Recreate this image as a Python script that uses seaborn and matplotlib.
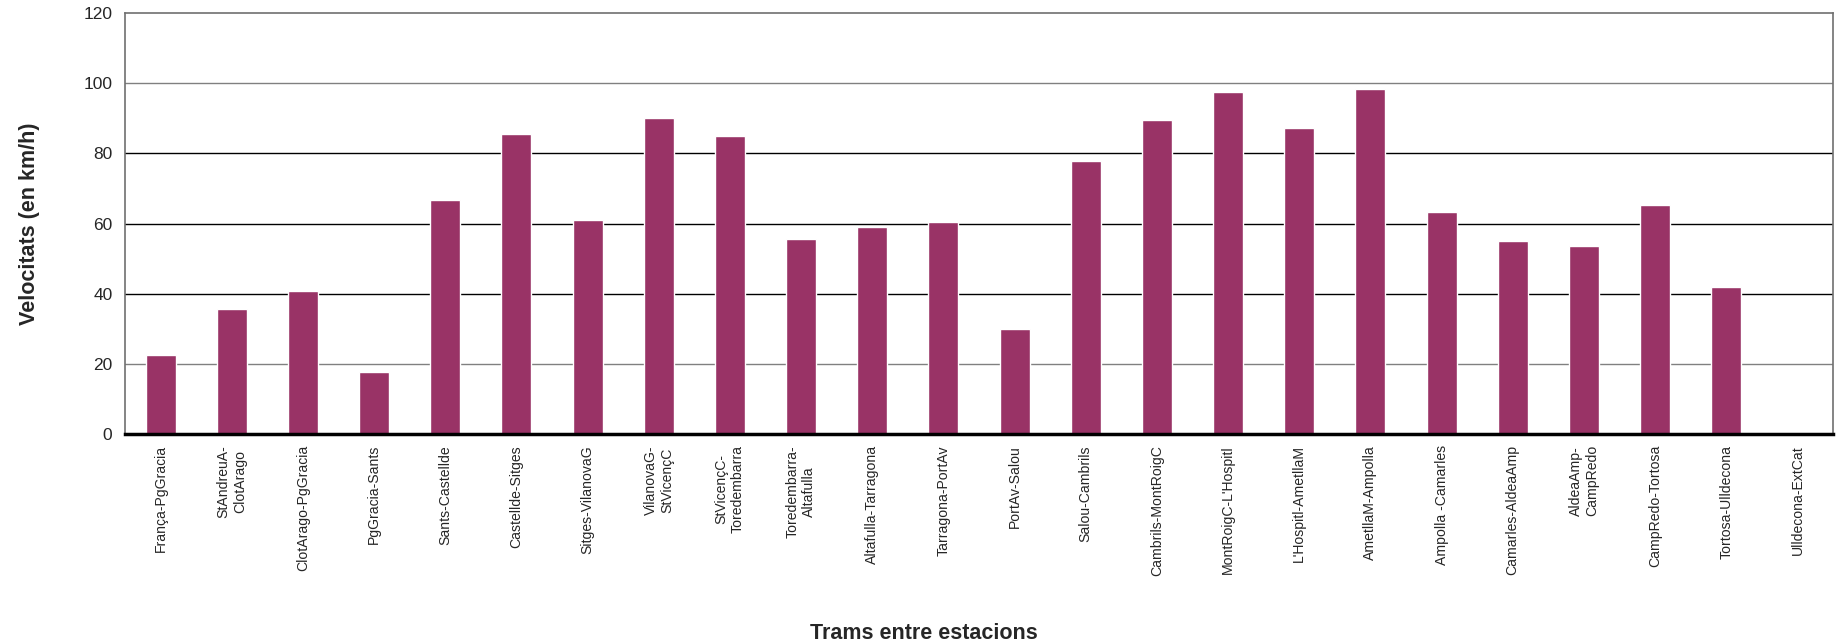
import matplotlib
matplotlib.use("Agg")
import matplotlib.pyplot as plt
import seaborn as sns
import pandas as pd

categories = [
    "França-PgGracia", "StAndreuA-\nClotArago", "ClotArago-PgGracia", "PgGracia-Sants",
    "Sants-Castellde", "Castellde-Sitges", "Sitges-VilanovaG", "VilanovaG-\nStVicençC",
    "StVicençC-\nToredembarra", "Toredembarra-\nAltafulla", "Altafulla-Tarragona",
    "Tarragona-PortAv", "PortAv-Salou", "Salou-Cambrils", "Cambrils-MontRoigC",
    "MontRoigC-L'Hospitl", "L'Hospitl-AmetllaM", "AmetllaM-Ampolla", "Ampolla -Camarles",
    "Camarles-AldeaAmp", "AldeaAmp-\nCampRedo", "CampRedo-Tortosa", "Tortosa-Ulldecona",
    "Ulldecona-ExtCat",
]
velocitats = [22.4, 35.5, 40.7, 17.8, 66.7, 85.5, 61.0, 90.1, 85.0, 55.5, 59.0, 60.4,
              29.8, 77.8, 89.5, 97.5, 87.2, 98.4, 63.2, 55.0, 53.5, 65.2, 41.8, 0.0]
yticks = [0, 20, 40, 60, 80, 100, 120]

sns.set_style("white")
plt.rcParams["font.family"] = ["Liberation Sans", "DejaVu Sans"]

df = pd.DataFrame({"tram": categories, "vel": velocitats})

fig = plt.figure(figsize=(18.45, 6.44), dpi=100)
ax = fig.add_axes([125/1845, 1 - 434/644, (1833-125)/1845, (434-13)/644])

sns.barplot(data=df, x="tram", y="vel", color="#993366", saturation=1, width=0.42, ax=ax, zorder=3)

ax.set_ylim(0, 120)
ax.set_xlim(-0.5, len(categories) - 0.5)
ax.set_yticks(yticks)
ax.set_yticklabels([str(t) for t in yticks], fontsize=12.5)
ax.tick_params(axis="y", length=0, pad=9)
ax.tick_params(axis="x", length=0, pad=8)
ax.set_xticks(range(len(categories)))
ax.set_xticklabels(categories, rotation=90, fontsize=10.1, multialignment="center", va="top")

for t in yticks[1:-1]:
    col = "#808080" if t in (20, 100) else "#000000"
    ax.axhline(t, color=col, lw=1.0, zorder=1)

for s in ["top", "left", "right"]:
    ax.spines[s].set_color("#707070")
    ax.spines[s].set_linewidth(1.2)
ax.spines["bottom"].set_color("black")
ax.spines["bottom"].set_linewidth(2.5)
ax.spines["bottom"].set_zorder(5)

ax.set_xlabel("Trams entre estacions", fontsize=15.5, fontweight="bold")
ax.xaxis.set_label_coords(0.468, -0.45)
ax.set_ylabel("Velocitats (en km/h)", fontsize=15.5, fontweight="bold")
ax.yaxis.set_label_coords(-0.0495, 0.5)

fig.savefig("out.png", dpi=100)
